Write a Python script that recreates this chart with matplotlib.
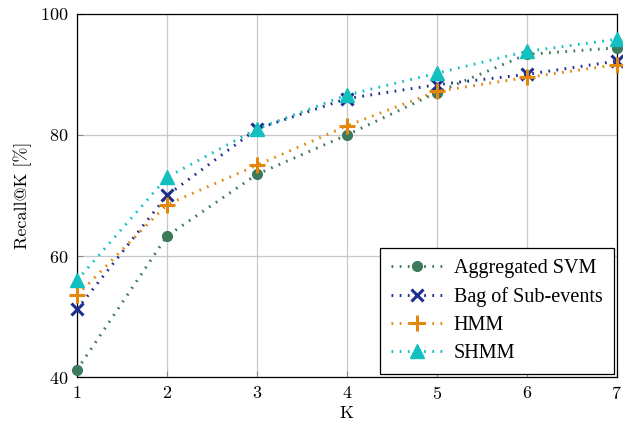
import numpy as np
import matplotlib.pyplot as plt

K = [1, 2, 3, 4, 5, 6, 7]
svm = [41.2, 63.3, 73.5, 80.0, 87.0, 93.3, 94.4]
bag = [51.2, 70.0, 81.0, 86.0, 88.3, 90.0, 92.2]
hmm = [53.5, 68.5, 75.0, 81.5, 87.2, 89.5, 91.6]
shmm = [56.0, 73.0, 81.0, 86.6, 90.2, 93.8, 95.8]

plt.rcParams['font.family'] = ['cmr10']
plt.rcParams['axes.formatter.use_mathtext'] = True

fig = plt.figure(figsize=(6.23, 4.33), dpi=100)
ax = fig.add_axes([0.1236, 0.129, 0.8664, 0.839])

dots = (0.6, 2.2)
ax.plot(K, svm, color='#3b7a5a', lw=2.1, dashes=dots, marker='o', ms=7, label='Aggregated SVM', clip_on=False, zorder=3)
ax.plot(K, bag, color='#1d2e8e', lw=2.1, dashes=dots, marker='x', ms=9, mew=2.2, label='Bag of Sub-events', clip_on=False, zorder=3)
ax.plot(K, hmm, color='#e3870e', lw=2.1, dashes=dots, marker='+', ms=12, mew=2.2, label='HMM', clip_on=False, zorder=3)
ax.plot(K, shmm, color='#12c0c0', lw=2.1, dashes=dots, marker='^', ms=10, label='SHMM', clip_on=False, zorder=3)

ax.set_xlim(1, 7)
ax.set_ylim(40, 100)
ax.set_xticks(K)
ax.set_yticks([40, 60, 80, 100])
ax.grid(True, color='#c8c8c8', lw=0.9)
ax.set_axisbelow(True)
ax.tick_params(direction='in', length=4, color='#888888', labelsize=13, pad=6)
for s in ax.spines.values():
    s.set_linewidth(0.9)

ax.set_xlabel('K', fontsize=13, labelpad=2)
ax.set_ylabel('Recall@K [%]', fontsize=13, labelpad=6)

leg = ax.legend(loc='lower right', prop={'family': 'Liberation Serif', 'size': 14.5},
                fancybox=False, edgecolor='black', framealpha=1, borderaxespad=0.15,
                handlelength=2.5, handletextpad=0.6, labelspacing=0.45, borderpad=0.55)
leg.get_frame().set_linewidth(0.9)

fig.savefig('out.png', dpi=100)
